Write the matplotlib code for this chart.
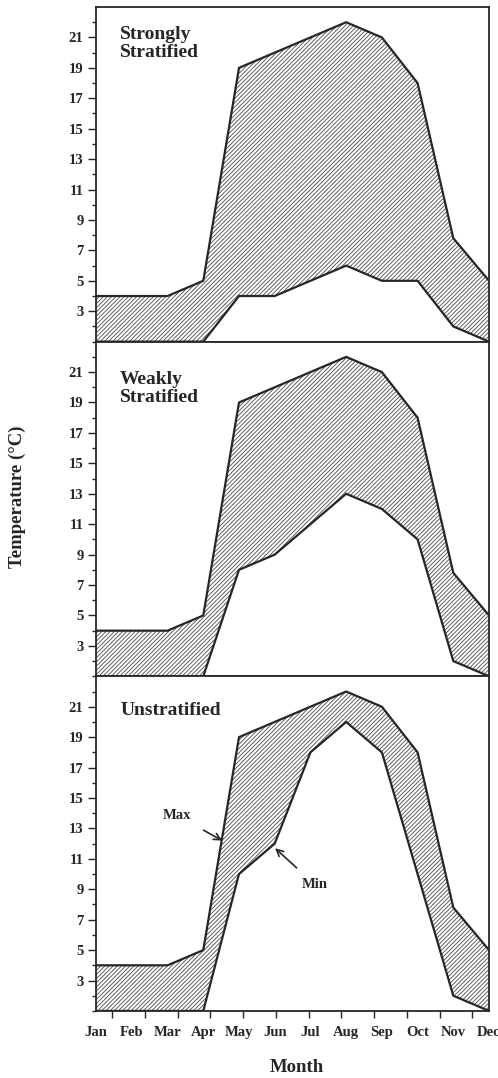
import numpy as np
import matplotlib
matplotlib.use("Agg")
import matplotlib.pyplot as plt

# 字型與樣式
plt.rcParams['font.family'] = ['Liberation Serif', 'DejaVu Serif']
plt.rcParams['font.weight'] = 'bold'
plt.rcParams['hatch.linewidth'] = 0.6

# 資料
months = ['Jan', 'Feb', 'Mar', 'Apr', 'May', 'Jun', 'Jul', 'Aug', 'Sep', 'Oct', 'Nov', 'Dec']
temp_max = [4, 4, 4, 5, 19, 20, 21, 22, 21, 18, 7.8, 5]
strong_min = [1, 1, 1, 1, 4, 4, 5, 6, 5, 5, 2, 1]
weak_min = [1, 1, 1, 1, 8, 9, 11, 13, 12, 10, 2, 1]
unstrat_min = [1, 1, 1, 1, 10, 12, 18, 20, 18, 10, 2, 1]
panel_titles = ['Strongly\nStratified', 'Weakly\nStratified', 'Unstratified']
yticks_major = [3, 5, 7, 9, 11, 13, 15, 17, 19, 21]

ink = '#262626'
hatch_col = '#4a4a4a'

fig, axes = plt.subplots(3, 1, figsize=(4.98, 10.78), dpi=100, sharex=True)
fig.subplots_adjust(left=0.193, right=0.982, bottom=0.0622, top=0.9935, hspace=0)

x = np.arange(len(months))
title_y = [0.944, 0.912, 0.924]

for ax, mins, title, ty in zip(axes, [strong_min, weak_min, unstrat_min], panel_titles, title_y):
    ax.fill_between(x, mins, temp_max, facecolor='white', edgecolor=hatch_col,
                    hatch='////////', linewidth=0)
    ax.plot(x, temp_max, color=ink, lw=1.6)
    ax.plot(x, mins, color=ink, lw=1.6)

    ax.set_xlim(0, 11)
    ax.set_ylim(1, 23)
    ax.set_yticks(yticks_major)
    ax.set_yticks(np.arange(1, 23), minor=True)
    ax.tick_params(axis='y', which='major', direction='out', length=6, width=1,
                   pad=3, labelsize=10.5, colors=ink)
    ax.tick_params(axis='y', which='minor', direction='out', length=3, width=1, colors=ink)
    for sp in ax.spines.values():
        sp.set_color(ink)
        sp.set_linewidth(1.3)

    ax.text(0.061, ty, title, transform=ax.transAxes, ha='left', va='top',
            fontsize=14, fontweight='bold', color=ink, linespacing=1.1)

# x 軸刻度（僅最下方）
bottom_ax = axes[-1]
bottom_ax.set_xticks(x)
bottom_ax.set_xticklabels(months)
bottom_ax.set_xticks(np.linspace(0.45, 10.53, 12), minor=True)
bottom_ax.tick_params(axis='x', which='major', length=0, pad=11, labelsize=10.5, colors=ink)
bottom_ax.tick_params(axis='x', which='minor', direction='out', length=5, width=1, colors=ink)
for ax in axes[:-1]:
    ax.tick_params(axis='x', which='both', length=0, labelbottom=False)

# Max / Min 標示
bottom_ax.annotate('Max', xy=(3.53, 12.2), xytext=(2.27, 13.85),
                   ha='center', va='center', fontsize=10.5, fontweight='bold', color=ink,
                   arrowprops=dict(arrowstyle='->', color=ink, lw=1.2, shrinkA=8, shrinkB=0,
                                   mutation_scale=12))
bottom_ax.annotate('Min', xy=(5.01, 11.7), xytext=(6.13, 9.3),
                   ha='center', va='center', fontsize=10.5, fontweight='bold', color=ink,
                   arrowprops=dict(arrowstyle='->', color=ink, lw=1.2, shrinkA=8, shrinkB=0,
                                   mutation_scale=12))

fig.text(0.034, 0.539, 'Temperature (°C)', rotation=90, ha='center', va='center',
         fontsize=13.5, fontweight='bold', color=ink)
fig.text(0.596, 0.0102, 'Month', ha='center', va='center',
         fontsize=13.5, fontweight='bold', color=ink)

plt.savefig('out.png', dpi=100)
plt.close()
